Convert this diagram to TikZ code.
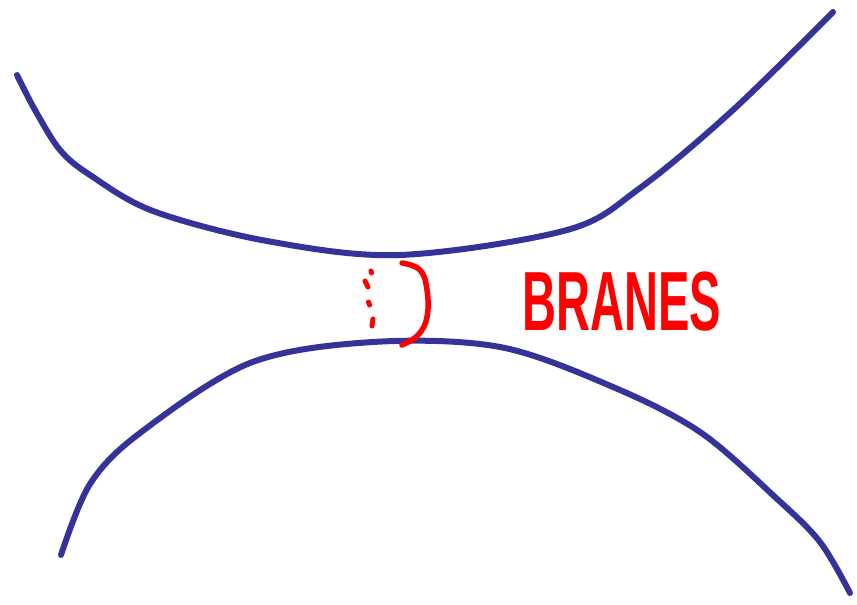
\documentclass[tikz,border=0pt]{standalone}
\usepackage{fontspec}
\setmainfont{Liberation Sans}
\definecolor{braneblue}{RGB}{51,51,153}
\definecolor{brred}{RGB}{255,0,0}
\tikzset{
  brane/.style={draw=braneblue, line width=6pt, line cap=round, line join=round},
  redline/.style={draw=brred, line width=5.5pt, line cap=round, line join=round},
  reddot/.style={draw=brred, line width=5pt, line cap=round},
}
\begin{document}
\begin{tikzpicture}[x=1pt,y=-1pt]
\useasboundingbox (0,0) rectangle (857,605);
% upper brane
\draw[brane] plot[smooth, tension=0.55] coordinates {
  (17,75) (35,110) (60,150) (90,175) (153,211) (267,241) (400,255)
  (567,230) (640,188) (733,110) (833,12)};
% lower brane
\draw[brane] plot[smooth, tension=0.55] coordinates {
  (61,555) (90,484) (140,433) (250,363) (373,342) (500,347) (613,387)
  (700,432) (775,497) (820,542) (850,593)};
% red bracket (open string)
\draw[redline] plot[smooth, tension=0.7] coordinates {
  (402,263) (420,270) (427,290) (427,317) (418,335) (402,345)};
% dotted back part
\draw[reddot] (371,271) -- (371.5,273);
\draw[reddot] (365,281) -- (368,287);
\draw[reddot] (368.5,302) -- (369.5,305);
\draw[reddot] (373,319) -- (372,326);
% label
\node[text=brred, font=\bfseries\fontsize{84}{84}\selectfont, xscale=0.56, inner sep=0pt] (lbl) at (622,302) {BRANES};
\end{tikzpicture}
\end{document}
